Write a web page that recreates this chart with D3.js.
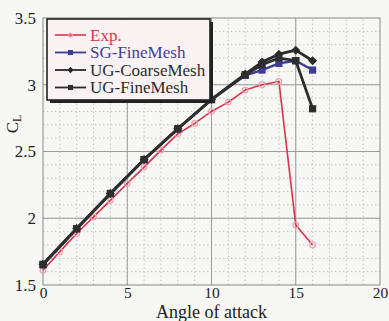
<!DOCTYPE html>
<html>
<head>
<meta charset="utf-8">
<style>
  body { margin: 0; background: #f7f7f4; }
  svg { display: block; font-family: "Liberation Serif", "DejaVu Serif", serif; }
</style>
</head>
<body>
<div class="chart-area"></div>
<script src="https://d3js.org/d3.v7.min.js"></script>
<script>
// angles and lift coefficients
var expAngle = [0, 1, 2, 3, 4, 5, 6, 7, 8, 9, 10, 11, 12, 13, 14, 15, 16];
var expCL = [1.61, 1.75, 1.886, 2.01, 2.134, 2.26, 2.383, 2.51, 2.632, 2.71, 2.80, 2.87, 2.96, 3.0, 3.025, 1.95, 1.80];

var cfdAngle = [0, 2, 4, 6, 8, 10, 12, 13, 14, 15, 16];
var sgFineCL = [1.65, 1.92, 2.184, 2.438, 2.669, 2.888, 3.07, 3.11, 3.16, 3.18, 3.11];
var ugCoarseCL = [1.655, 1.923, 2.186, 2.44, 2.67, 2.89, 3.08, 3.17, 3.229, 3.259, 3.18];
var ugFineCL = [1.655, 1.923, 2.186, 2.44, 2.67, 2.89, 3.075, 3.15, 3.2, 3.18, 2.82];

var xTicks = [0, 5, 10, 15, 20];
var yTicks = [1.5, 2, 2.5, 3, 3.5];
var legendLabels = ["Exp.", "SG-FineMesh", "UG-CoarseMesh", "UG-FineMesh"];

var W = 389, H = 321;
var serif = "'Liberation Serif', 'DejaVu Serif', serif";
var svg = d3.select(".chart-area").append("svg")
    .attr("width", W).attr("height", H);

var x = d3.scaleLinear().domain([0, 20]).range([43, 380]);
var y = d3.scaleLinear().domain([1.5, 3.5]).range([285, 18]);

// minor grid (dotted)
var g = svg.append("g");
g.selectAll(".vminor").data(d3.range(1, 20)).enter().append("line")
    .attr("x1", d => x(d)).attr("x2", d => x(d))
    .attr("y1", y(1.5)).attr("y2", y(3.5))
    .attr("stroke", "#b8b8b8").attr("stroke-width", 0.8)
    .attr("stroke-dasharray", "1.5,2.5");
g.selectAll(".hminor").data(d3.range(16, 35).map(d => d / 10)).enter().append("line")
    .attr("x1", x(0)).attr("x2", x(20))
    .attr("y1", d => y(d)).attr("y2", d => y(d))
    .attr("stroke", "#b8b8b8").attr("stroke-width", 0.8)
    .attr("stroke-dasharray", "1.5,2.5");

// major grid
g.selectAll(".vmajor").data(xTicks.slice(1, -1)).enter().append("line")
    .attr("x1", d => x(d)).attr("x2", d => x(d))
    .attr("y1", y(1.5)).attr("y2", y(3.5))
    .attr("stroke", "#9a9a9a").attr("stroke-width", 1);
g.selectAll(".hmajor").data(yTicks.slice(1, -1)).enter().append("line")
    .attr("x1", x(0)).attr("x2", x(20))
    .attr("y1", d => y(d)).attr("y2", d => y(d))
    .attr("stroke", "#9a9a9a").attr("stroke-width", 1);

// frame
svg.append("rect")
    .attr("x", x(0)).attr("y", y(3.5))
    .attr("width", x(20) - x(0)).attr("height", y(1.5) - y(3.5))
    .attr("fill", "none").attr("stroke", "#888").attr("stroke-width", 1);

// axes
svg.append("g")
    .attr("transform", "translate(0," + y(1.5) + ")")
    .call(d3.axisBottom(x).tickValues(xTicks).tickSize(0).tickPadding(2))
    .call(a => a.select(".domain").remove())
    .selectAll("text").attr("font-size", 15.5).attr("fill", "#222")
    .style("font-family", serif);
svg.append("g")
    .attr("transform", "translate(" + x(0) + ",0)")
    .call(d3.axisLeft(y).tickValues(yTicks).tickFormat(d3.format("")).tickSize(0).tickPadding(7))
    .call(a => a.select(".domain").remove())
    .selectAll("text").attr("font-size", 17).attr("fill", "#222")
    .style("font-family", serif);

svg.append("text")
    .attr("x", x(10)).attr("y", 317.5)
    .attr("text-anchor", "middle").attr("font-size", 18).attr("fill", "#222")
    .style("font-family", serif)
    .text("Angle of attack");
var cl = svg.append("text")
    .attr("transform", "translate(18,124) rotate(-90)")
    .attr("text-anchor", "middle").attr("font-size", 17).attr("fill", "#222")
    .style("font-family", serif);
cl.append("tspan").text("C");
cl.append("tspan").attr("font-size", 12).attr("dy", 3).text("L");

var line = d3.line().x(d => x(d[0])).y(d => y(d[1]));

// series
var series = [
  { xs: expAngle, ys: expCL, color: "#d8344c", width: 1.6, marker: "circle" },
  { xs: cfdAngle, ys: sgFineCL, color: "#3c3c94", width: 2.4, marker: "square" },
  { xs: cfdAngle, ys: ugCoarseCL, color: "#2a2a2a", width: 2.8, marker: "diamond" },
  { xs: cfdAngle, ys: ugFineCL, color: "#2e2e2e", width: 2.8, marker: "square" }
];

function drawMarker(sel, s, px, py, scale) {
  var k = scale || 1;
  if (s.marker === "circle") {
    sel.append("circle").attr("cx", px).attr("cy", py).attr("r", 2.8 * k)
      .attr("fill", "none").attr("stroke", "#eca0ab").attr("stroke-width", 1.2);
  } else if (s.marker === "square") {
    var r = 3.6 * k;
    sel.append("rect").attr("x", px - r).attr("y", py - r).attr("width", 2 * r).attr("height", 2 * r)
      .attr("fill", s.color);
  } else {
    var r2 = 4.5 * k;
    sel.append("path")
      .attr("d", "M" + px + "," + (py - r2) + "L" + (px + r2) + "," + py + "L" + px + "," + (py + r2) + "L" + (px - r2) + "," + py + "Z")
      .attr("fill", s.color);
  }
}

series.forEach(function(s) {
  var pts = s.xs.map((v, i) => [v, s.ys[i]]);
  var gs = svg.append("g");
  gs.append("path").datum(pts).attr("d", line)
    .attr("fill", "none").attr("stroke", s.color).attr("stroke-width", s.width)
    .attr("stroke-linejoin", "round");
  pts.forEach(p => drawMarker(gs, s, x(p[0]), y(p[1])));
});

// legend
var lg = svg.append("g");
lg.append("rect").attr("x", 50).attr("y", 22).attr("width", 163).attr("height", 81)
  .attr("fill", "#222");
lg.append("rect").attr("x", 47).attr("y", 19).attr("width", 163).attr("height", 81)
  .attr("fill", "#fbf3f3").attr("stroke", "#222").attr("stroke-width", 1.6);
var legendColors = ["#d8344c", "#3c3c94", "#2a2a2a", "#2a2a2a"];
var legendText = ["#d8344c", "#40409a", "#2a2a2a", "#2a2a2a"];
legendLabels.forEach(function(lab, i) {
  var ly = 35 + i * 17.5;
  lg.append("line").attr("x1", 55).attr("x2", 86).attr("y1", ly).attr("y2", ly)
    .attr("stroke", legendColors[i]).attr("stroke-width", i === 0 ? 1.6 : 1.8);
  drawMarker(lg, series[i], 70.5, ly, 0.7);
  lg.append("text").attr("x", 90).attr("y", ly + 5.5)
    .attr("font-size", 17).attr("fill", legendText[i])
    .style("font-family", serif)
    .text(lab);
});
</script>
</body>
</html>
